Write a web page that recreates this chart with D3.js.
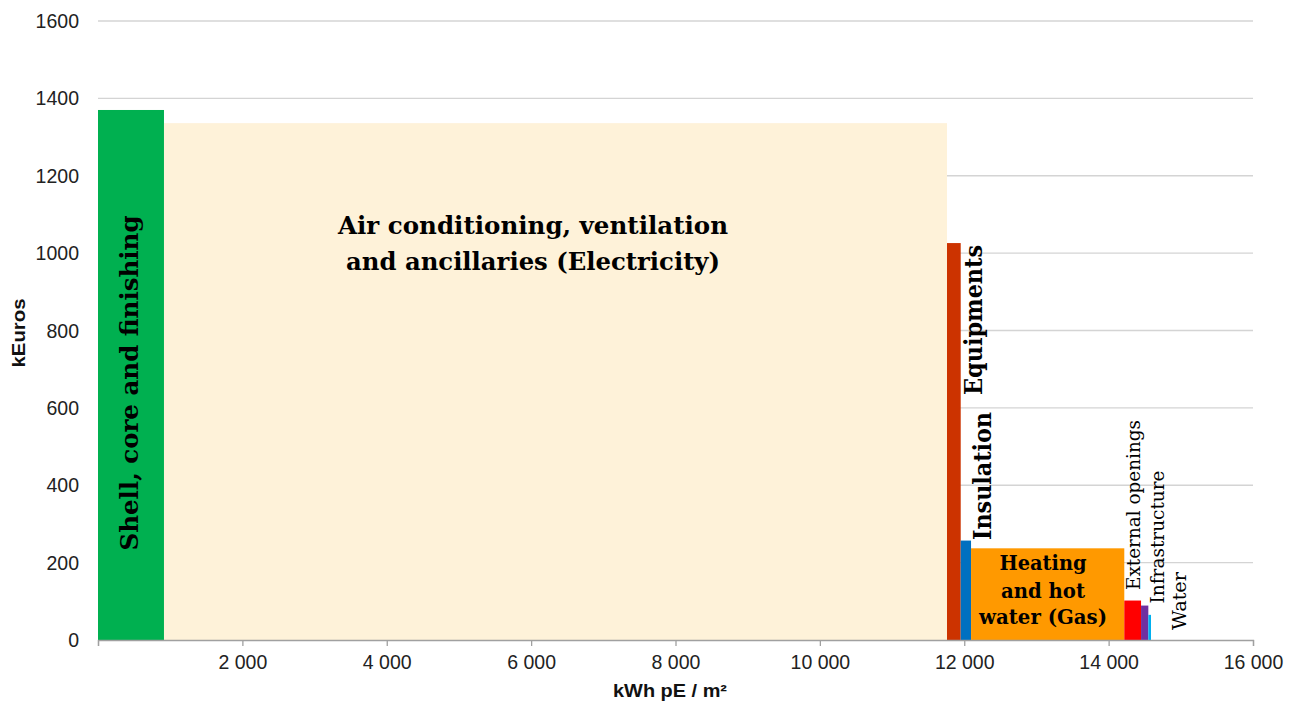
<!DOCTYPE html>
<html>
<head>
<meta charset="utf-8">
<script src="https://cdn.jsdelivr.net/npm/d3@7"></script>
<style>
  html, body { margin: 0; padding: 0; background: #fff; }
  svg { display: block; }
</style>
</head>
<body>
<svg id="chart" width="1295" height="706"></svg>
<script>
// ---- data ----
const categories = ["Shell, core and finishing", "Air conditioning, ventilation and ancillaries (Electricity)",
  "Equipments", "Insulation", "Heating and hot water (Gas)", "External openings", "Infrastructure", "Water"];
const energyWidths = [914, 10847, 190, 143, 2123, 232, 101, 37];   // kWh pE / m²
const costValues   = [1370, 1336, 1026, 257, 237, 102, 89, 65];      // kEuros
const xTicks = [0, 2000, 4000, 6000, 8000, 10000, 12000, 14000, 16000];
const yTicks = [0, 200, 400, 600, 800, 1000, 1200, 1400, 1600];

// ---- styles ----
const colors = ["#00b050", "#fef2d9", "#cc3300", "#0070c0", "#ff9900", "#ff0000", "#7030a0", "#00b0f0"];

const svg = d3.select("#chart");
const x = d3.scaleLinear().domain([0, 16000]).range([98, 1253]);
const y = d3.scaleLinear().domain([0, 1600]).range([640, 21]);
const sans = "'Liberation Sans', Arial, sans-serif";

// gridlines
svg.append("g").selectAll("line").data(yTicks.filter(d => d > 0)).join("line")
  .attr("x1", x(0)).attr("x2", x(16000))
  .attr("y1", d => y(d)).attr("y2", d => y(d))
  .attr("stroke", "#d4d4d4").attr("stroke-width", 1.3);

// y tick labels
svg.append("g").selectAll("text").data(yTicks).join("text")
  .attr("x", 79).attr("y", d => y(d)).attr("dy", "0.36em")
  .attr("text-anchor", "end")
  .style("font-family", sans).style("font-size", "19.5px").attr("fill", "#222")
  .text(d => d);

// bars
let cum = 0;
const bars = categories.map((c, i) => {
  const b = { name: c, x0: cum, x1: cum + energyWidths[i], v: costValues[i], color: colors[i] };
  cum += energyWidths[i];
  return b;
});
svg.append("g").selectAll("rect").data(bars).join("rect")
  .attr("x", d => x(d.x0)).attr("width", d => x(d.x1) - x(d.x0))
  .attr("y", d => y(d.v)).attr("height", d => y(0) - y(d.v))
  .attr("fill", d => d.color);

// x axis
const fmt = d => d === 0 ? "" : d3.format(",")(d).replace(/,/g, " ");
const xAxis = svg.append("g").attr("transform", `translate(0,${y(0)})`)
  .call(d3.axisBottom(x).tickValues(xTicks).tickFormat(fmt).tickSizeOuter(0).tickSize(6).tickPadding(9));
xAxis.select(".domain").attr("stroke", "#a0a0a0").attr("stroke-width", 1.3);
xAxis.selectAll(".tick line").attr("stroke", "#a0a0a0").attr("stroke-width", 1.3);
xAxis.selectAll(".tick text").style("font-family", sans)
  .style("font-size", "19.5px").attr("fill", "#222");

// axis titles
svg.append("text").attr("x", 670).attr("y", 697).attr("text-anchor", "middle")
  .style("font-family", sans).style("font-size", "18px").style("font-weight", "bold")
  .attr("textLength", 114).attr("lengthAdjust", "spacingAndGlyphs")
  .attr("fill", "#111").text("kWh pE / m²");
svg.append("text").attr("transform", "translate(25,333) rotate(-90)").attr("text-anchor", "middle")
  .style("font-family", sans).style("font-size", "18px").style("font-weight", "bold")
  .attr("textLength", 69).attr("lengthAdjust", "spacingAndGlyphs")
  .attr("fill", "#111").text("kEuros");

// bar labels
const serif = "'DejaVu Serif', 'Liberation Serif', serif";
function vlabel(cx, cy, txt, size, bold, len) {
  const t = svg.append("text").attr("transform", `translate(${cx},${cy}) rotate(-90)`)
    .attr("text-anchor", "middle").attr("dy", "0.35em")
    .style("font-family", serif).style("font-size", size + "px").style("font-weight", bold ? "bold" : "normal")
    .attr("fill", "#000").text(txt);
  if (len) t.attr("textLength", len).attr("lengthAdjust", "spacingAndGlyphs");
}
function hlabel(cx, ys, lines, size, len) {
  lines.forEach((l, i) => {
    const t = svg.append("text").attr("x", cx).attr("y", ys[i]).attr("text-anchor", "middle")
      .style("font-family", serif).style("font-size", size + "px").style("font-weight", "bold")
      .attr("fill", "#000").text(l);
    if (len) t.attr("textLength", len[i]).attr("lengthAdjust", "spacingAndGlyphs");
  });
}
vlabel(129, 383, "Shell, core and finishing", 25, true, 335);
hlabel(533, [234, 270], ["Air conditioning, ventilation", "and ancillaries (Electricity)"], 24, [390, 374]);
vlabel(974, 320, "Equipments", 24, true, 150);
vlabel(983, 476, "Insulation", 24, true, 128);
hlabel(1043, [570, 598, 624], ["Heating", "and hot", "water (Gas)"], 20, [87, 84, 128]);
vlabel(1133, 505, "External openings", 19, false, 170);
vlabel(1157, 537, "Infrastructure", 19, false, 133);
vlabel(1179, 601, "Water", 19, false, 58);
</script>
</body>
</html>
